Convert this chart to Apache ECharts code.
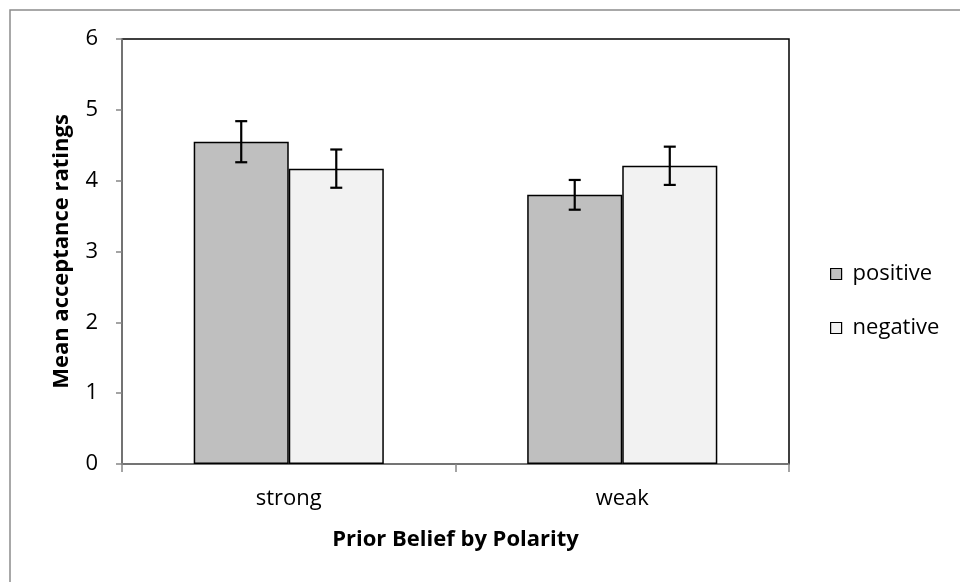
<!DOCTYPE html>
<html>
<head>
<meta charset="utf-8">
<style>
  html, body { margin: 0; padding: 0; background: #fff; }
  #chart { width: 960px; height: 582px; }
</style>
<script src="https://cdn.jsdelivr.net/npm/echarts@6/dist/echarts.min.js"></script>
</head>
<body>
<div id="chart"></div>
<script>
// Prior belief groups and mean ratings with their error margins
const categories = ['strong', 'weak'];
const seriesNames = ['positive', 'negative'];
const positiveMeans = [4.55, 3.80];
const positiveErr = [0.29, 0.21];
const negativeMeans = [4.17, 4.21];
const negativeErr = [0.27, 0.27];
const yTicks = [0, 1, 2, 3, 4, 5, 6];

const FONT = '"Open Sans", "Noto Sans", sans-serif';
const FONT_SIZE = 22;
const BAR_WIDTH_FRAC = 0.285;

const chart = echarts.init(document.getElementById('chart'), null, { renderer: 'canvas' });

// Error bar drawer; shift = -1 for the left bar of a group, +1 for the right bar
function errorBars(means, errs, shift) {
  return {
    type: 'custom',
    silent: true,
    z: 10,
    data: categories.map((c, i) => [i, means[i] - errs[i], means[i] + errs[i]]),
    renderItem: function (params, api) {
      const band = api.size([1, 0])[0];
      const dx = shift * band * BAR_WIDTH_FRAC / 2;
      const lo = api.coord([api.value(0), api.value(1)]);
      const hi = api.coord([api.value(0), api.value(2)]);
      const x = lo[0] + dx;
      const cap = 6;
      const style = { stroke: '#000', lineWidth: 2.2 };
      return {
        type: 'group',
        children: [
          { type: 'line', shape: { x1: x, y1: hi[1], x2: x, y2: lo[1] }, style: style },
          { type: 'line', shape: { x1: x - cap, y1: hi[1], x2: x + cap, y2: hi[1] }, style: style },
          { type: 'line', shape: { x1: x - cap, y1: lo[1], x2: x + cap, y2: lo[1] }, style: style }
        ]
      };
    }
  };
}

const option = {
  animation: false,
  backgroundColor: '#fff',
  textStyle: { fontFamily: FONT },
  grid: {
    left: 122, right: 171, top: 39, bottom: 118,
    show: true, borderColor: '#000', borderWidth: 1.5, backgroundColor: 'transparent'
  },
  graphic: [
    {
      type: 'rect',
      shape: { x: 10, y: 10, width: 970, height: 600 },
      style: { fill: 'none', stroke: '#8c8c8c', lineWidth: 1.5 },
      silent: true
    }
  ],
  legend: {
    orient: 'vertical',
    left: 830,
    top: 263,
    padding: 0,
    itemWidth: 11,
    itemHeight: 11,
    itemGap: 32,
    icon: 'rect',
    data: seriesNames,
    textStyle: { fontFamily: FONT, fontSize: FONT_SIZE, color: '#000', padding: [0, 0, 0, 6] },
    itemStyle: { borderColor: '#000', borderWidth: 1.2 }
  },
  xAxis: {
    type: 'category',
    data: categories,
    axisLine: { lineStyle: { color: '#868686', width: 1.5 } },
    axisTick: { show: true, length: 8, lineStyle: { color: '#868686', width: 1.5 } },
    axisLabel: { fontSize: FONT_SIZE, color: '#000', margin: 24, fontFamily: FONT },
    name: 'Prior Belief by Polarity',
    nameLocation: 'middle',
    nameGap: 65,
    nameTextStyle: { fontSize: FONT_SIZE, fontWeight: 'bold', color: '#000', fontFamily: FONT }
  },
  yAxis: {
    type: 'value',
    min: yTicks[0],
    max: yTicks[yTicks.length - 1],
    interval: 1,
    splitLine: { show: false },
    axisLine: { show: true, lineStyle: { color: '#868686', width: 1.5 } },
    axisTick: { show: true, length: 6, lineStyle: { color: '#868686', width: 1.5 } },
    axisLabel: { fontSize: FONT_SIZE, color: '#000', margin: 24, fontFamily: FONT },
    name: 'Mean acceptance ratings',
    nameLocation: 'middle',
    nameGap: 49,
    nameTextStyle: { fontSize: FONT_SIZE, fontWeight: 'bold', color: '#000', fontFamily: FONT }
  },
  series: [
    {
      name: seriesNames[0],
      type: 'bar',
      data: positiveMeans,
      barWidth: (BAR_WIDTH_FRAC * 100) + '%',
      barGap: '0%',
      itemStyle: { color: '#bfbfbf', borderColor: '#000', borderWidth: 1.5 }
    },
    {
      name: seriesNames[1],
      type: 'bar',
      data: negativeMeans,
      barWidth: (BAR_WIDTH_FRAC * 100) + '%',
      barGap: '0%',
      itemStyle: { color: '#f2f2f2', borderColor: '#000', borderWidth: 1.5 }
    },
    errorBars(positiveMeans, positiveErr, -1),
    errorBars(negativeMeans, negativeErr, 1)
  ]
};

chart.setOption(option);
</script>
</body>
</html>
